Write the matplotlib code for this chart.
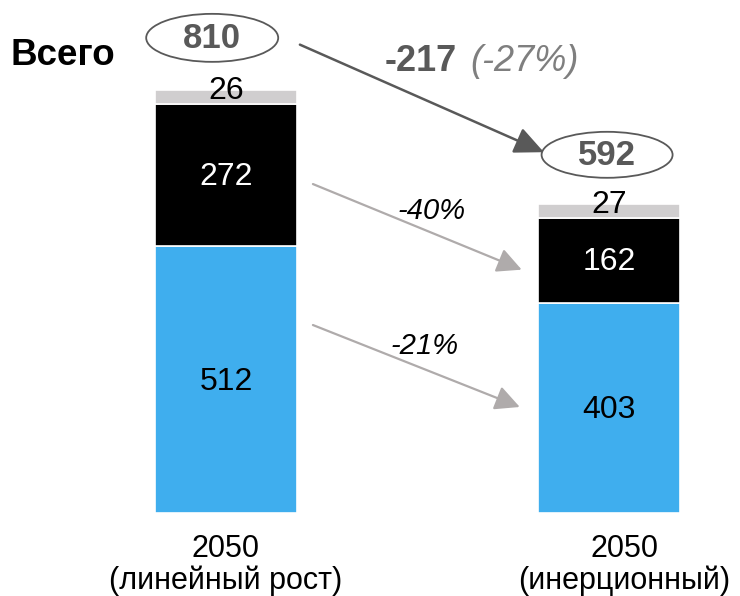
import matplotlib
matplotlib.use("Agg")
import matplotlib.pyplot as plt
from matplotlib.patches import Ellipse, FancyArrowPatch

plt.rcParams['font.family'] = ['Liberation Sans', 'DejaVu Sans']

categories = ["2050\n(линейный рост)", "2050\n(инерционный)"]
blue_vals = [512, 403]
black_vals = [272, 162]
gray_vals = [26, 27]
totals = [810, 592]
seg_changes = ["-40%", "-21%"]
total_change = "-217"
total_change_pct = "(-27%)"
total_label = "Всего"

BLUE = "#3FAEEE"
BLACK = "#000000"
GRAY = "#D0CECF"
TXTGRAY = "#595959"

fig = plt.figure(figsize=(7.40, 5.96), dpi=100)
ax = fig.add_axes([0, 0, 1, 1])
ax.set_xlim(-0.590, 1.342)
ax.set_ylim(-159, 982.5)
ax.axis('off')

x = [0, 1]
w = 0.371
ax.bar(x, blue_vals, width=w, color=BLUE, edgecolor='white', linewidth=1.2)
bot2 = blue_vals
ax.bar(x, black_vals, width=w, bottom=bot2, color=BLACK, edgecolor='white', linewidth=1.2)
bot3 = [a + b for a, b in zip(blue_vals, black_vals)]
ax.bar(x, gray_vals, width=w, bottom=bot3, color=GRAY, edgecolor='white', linewidth=1.2)

fs = 23
for i in range(2):
    ax.text(x[i], blue_vals[i] / 2 - 5, str(blue_vals[i]), ha='center', va='center', fontsize=fs, color='black')
    ax.text(x[i], blue_vals[i] + black_vals[i] / 2 - 4, str(black_vals[i]), ha='center', va='center', fontsize=fs, color='white')
    ax.text(x[i], bot3[i] + gray_vals[i] - 2, str(gray_vals[i]), ha='center', va='center', fontsize=fs, color='black')

# category labels
ax.text(x[0], -100, categories[0], ha='center', va='center', fontsize=22, linespacing=1.08)
ax.text(x[1] + 0.04, -100, categories[1], ha='center', va='center', fontsize=22, linespacing=1.08)

# totals in ellipses
tot_y = [totals[0] + 100, totals[1] + 94]
tot_x = [-0.036, 0.995]
ell_w = [132 / 383, 131 / 383]
ell_h = [48 / 0.5222, 46 / 0.5222]
for i in range(2):
    e = Ellipse((tot_x[i], tot_y[i]), ell_w[i], ell_h[i], facecolor='white', edgecolor=TXTGRAY, linewidth=1.3)
    ax.add_patch(e)
    ax.text(tot_x[i], tot_y[i] - 2, str(totals[i]), ha='center', va='center', fontsize=25,
            fontweight='bold', color=TXTGRAY)

ax.text(-0.562, tot_y[0] - 34, total_label, ha='left', va='center', fontsize=26.5, fontweight='bold', color='black')

# big arrow
arr = FancyArrowPatch((0.193, totals[0] + 87), (0.83, totals[1] + 99),
                      arrowstyle='-|>,head_length=12,head_width=5.5', color=TXTGRAY, linewidth=1.8,
                      mutation_scale=1.5, shrinkA=0, shrinkB=0)
ax.add_patch(arr)
ax.text(0.415, totals[0] + 54, total_change, ha='left', va='center', fontsize=26, fontweight='bold', color=TXTGRAY)
ax.text(0.637, totals[0] + 54, total_change_pct, ha='left', va='center', fontsize=26, style='italic', color='#7F7F7F')

# segment arrows
arrow_specs = [((0.227, 630), (0.772, 466)), ((0.227, 360), (0.767, 203))]
for p0, p1 in arrow_specs:
    a = FancyArrowPatch(p0, p1, arrowstyle='-|>,head_length=10,head_width=5', color='#AFABAB',
                        linewidth=1.6, mutation_scale=1.5, shrinkA=0, shrinkB=0)
    ax.add_patch(a)
lab_pos = [(0.538, 578), (0.519, 320)]
for (lx, ly), lab in zip(lab_pos, seg_changes):
    ax.text(lx, ly, lab, ha='center', va='center', fontsize=21, style='italic', color='black')

fig.savefig("out.png", dpi=100)
